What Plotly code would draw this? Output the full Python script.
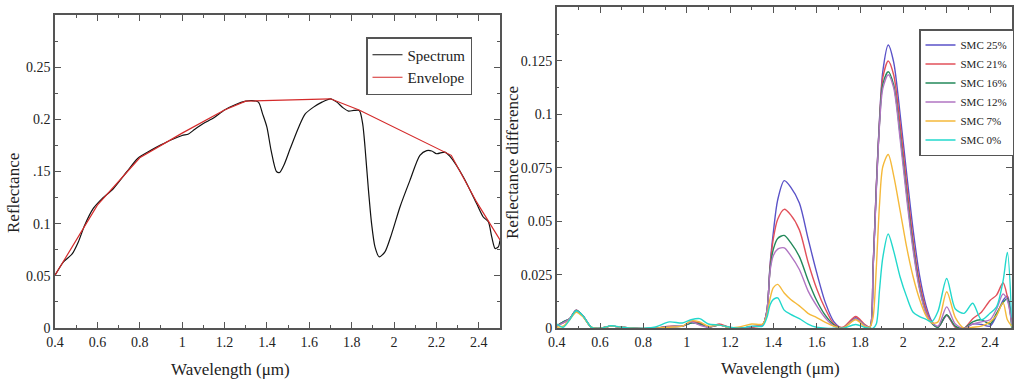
import plotly.graph_objects as go

# ---------------- Left panel data ----------------
spec_wl = [0.40, 0.44, 0.48, 0.51, 0.54, 0.58, 0.62, 0.675, 0.74, 0.79, 0.85, 0.90, 0.95, 1.00,
           1.03, 1.06, 1.10, 1.15, 1.20, 1.25, 1.30, 1.33, 1.36, 1.38, 1.40, 1.42, 1.445, 1.46,
           1.48, 1.51, 1.55, 1.58, 1.62, 1.66, 1.70, 1.73, 1.76, 1.785, 1.81, 1.836, 1.852,
           1.863, 1.878, 1.894, 1.91, 1.93, 1.957, 1.989, 2.028, 2.075, 2.122, 2.154, 2.178,
           2.201, 2.24, 2.264, 2.327, 2.39, 2.421, 2.445, 2.461, 2.477, 2.492, 2.50]
spectrum = [0.0505, 0.0634, 0.0707, 0.0825, 0.0985, 0.1144, 0.1235, 0.1335, 0.150, 0.1625, 0.170,
            0.1755, 0.1805, 0.1845, 0.186, 0.1905, 0.196, 0.2015, 0.209, 0.214, 0.2174, 0.218,
            0.2165, 0.205, 0.1925, 0.170, 0.150, 0.149, 0.156, 0.172, 0.1925, 0.205, 0.2117,
            0.2165, 0.2197, 0.2165, 0.211, 0.2079, 0.2085, 0.2084, 0.1957, 0.1733, 0.1351,
            0.100, 0.0777, 0.0682, 0.073, 0.0905, 0.116, 0.1415, 0.1654, 0.170, 0.1697, 0.167,
            0.1686, 0.1644, 0.1447, 0.119, 0.1064, 0.1018, 0.0873, 0.0762, 0.0777, 0.0841]

env_wl = [0.40, 0.60, 0.80, 1.00, 1.20, 1.30, 1.70, 1.835, 2.27, 2.39, 2.50]
envelope = [0.0505, 0.1178, 0.1632, 0.1868, 0.209, 0.2175, 0.2197, 0.209, 0.1655, 0.1206, 0.0845]

left_ytick_vals = [0, 0.05, 0.1, 0.15, 0.2, 0.25]
left_ytick_text = ["0", "0.05", "0.1", ".15", "0.2", "0.25"]

# ---------------- Right panel data ----------------
wl = [0.40, 0.43, 0.46, 0.49, 0.52, 0.56, 0.60, 0.65, 0.70, 0.75, 0.85, 0.92, 0.98, 1.02, 1.06,
      1.10, 1.15, 1.20, 1.25, 1.30, 1.35, 1.37, 1.385, 1.40, 1.42, 1.45, 1.48, 1.52, 1.56, 1.60,
      1.64, 1.68, 1.72, 1.78, 1.82, 1.845, 1.86, 1.875, 1.89, 1.905, 1.93, 1.955, 1.985, 2.015,
      2.045, 2.075, 2.105, 2.13, 2.16, 2.20, 2.24, 2.28, 2.32, 2.36, 2.40, 2.43, 2.46, 2.48, 2.50]

smc25 = [0.001, 0.003, 0.0045, 0.0085, 0.006, 0.0005, 0.0, 0.001, 0.0005, 0.0, 0.0, 0.0008, 0.001,
         0.0025, 0.002, 0.0005, 0.0015, 0.0003, 0.0, 0.0008, 0.0015, 0.008, 0.030, 0.045, 0.060,
         0.069, 0.066, 0.0585, 0.042, 0.026, 0.012, 0.003, 0.0, 0.005, 0.0015, 0.0005, 0.028,
         0.066, 0.098, 0.120, 0.1324, 0.1245, 0.100, 0.0724, 0.046, 0.0245, 0.0105, 0.0035,
         0.0005, 0.006, 0.0005, 0.0, 0.002, 0.0018, 0.001, 0.006, 0.013, 0.015, 0.004]
smc21 = [0.0015, 0.0025, 0.0045, 0.0085, 0.006, 0.0005, 0.0, 0.001, 0.0005, 0.0, 0.0, 0.001, 0.001,
         0.003, 0.0025, 0.0005, 0.002, 0.0003, 0.0, 0.0005, 0.0015, 0.008, 0.029, 0.042, 0.051,
         0.0556, 0.053, 0.046, 0.031, 0.0185, 0.009, 0.002, 0.0005, 0.0055, 0.002, 0.0005, 0.028,
         0.066, 0.097, 0.117, 0.1249, 0.1185, 0.0955, 0.0677, 0.0413, 0.0212, 0.0088, 0.003,
         0.0005, 0.0062, 0.0005, 0.0, 0.0045, 0.0075, 0.013, 0.0155, 0.0213, 0.0148, 0.003]
smc16 = [0.001, 0.003, 0.0045, 0.0083, 0.006, 0.0005, 0.0, 0.001, 0.0005, 0.0, 0.0, 0.0008, 0.001,
         0.0025, 0.002, 0.0005, 0.0015, 0.0003, 0.0, 0.0008, 0.0015, 0.008, 0.028, 0.037, 0.042,
         0.0434, 0.040, 0.0335, 0.0225, 0.013, 0.006, 0.0015, 0.0, 0.0045, 0.0015, 0.0005, 0.027,
         0.065, 0.096, 0.114, 0.1199, 0.1138, 0.0905, 0.063, 0.038, 0.0188, 0.0072, 0.0025,
         0.0005, 0.0063, 0.001, 0.0, 0.003, 0.004, 0.002, 0.007, 0.012, 0.014, 0.0]
smc12 = [0.001, 0.0025, 0.0045, 0.008, 0.006, 0.0005, 0.0, 0.001, 0.0005, 0.0, 0.0, 0.0008, 0.001,
         0.003, 0.0015, 0.0005, 0.0015, 0.0003, 0.0, 0.0008, 0.0015, 0.008, 0.027, 0.034, 0.037,
         0.0376, 0.034, 0.0275, 0.0175, 0.0105, 0.0048, 0.001, 0.0, 0.0045, 0.0015, 0.0005, 0.027,
         0.064, 0.095, 0.112, 0.1185, 0.1125, 0.0885, 0.061, 0.0365, 0.018, 0.007, 0.0028,
         0.001, 0.010, 0.002, 0.0, 0.002, 0.003, 0.004, 0.009, 0.016, 0.013, 0.002]
smc7 = [0.0005, 0.001, 0.004, 0.0075, 0.0055, 0.0005, 0.0, 0.001, 0.0005, 0.0, 0.0, 0.0005, 0.001,
        0.0035, 0.003, 0.001, 0.0015, 0.0003, 0.0008, 0.002, 0.002, 0.006, 0.014, 0.019, 0.0205,
        0.0165, 0.0135, 0.0105, 0.007, 0.005, 0.0028, 0.001, 0.0, 0.004, 0.001, 0.0005, 0.005,
        0.028, 0.058, 0.0755, 0.0812, 0.0715, 0.055, 0.038, 0.0241, 0.0135, 0.0058, 0.0025,
        0.003, 0.0171, 0.005, 0.0, 0.0005, 0.001, 0.003, 0.006, 0.012, 0.004, 0.001]
smc0 = [0.002, 0.0005, 0.004, 0.0082, 0.006, 0.0005, 0.0, 0.0012, 0.0005, 0.0, 0.0005, 0.003, 0.0025,
        0.004, 0.0045, 0.002, 0.0015, 0.0005, 0.0, 0.001, 0.001, 0.005, 0.011, 0.0135, 0.0142,
        0.0085, 0.0065, 0.0045, 0.002, 0.0005, 0.0, 0.0, 0.0, 0.0018, 0.0005, 0.0, 0.0,
        0.002, 0.018, 0.033, 0.0441, 0.0362, 0.024, 0.0148, 0.0075, 0.0055, 0.0042, 0.003,
        0.008, 0.0233, 0.009, 0.007, 0.0117, 0.004, 0.007, 0.010, 0.022, 0.0355, 0.005]

series_names = ["SMC 25%", "SMC 21%", "SMC 16%", "SMC 12%", "SMC 7%", "SMC 0%"]
series_values = [smc25, smc21, smc16, smc12, smc7, smc0]
series_colors = ["#5a52c8", "#e2505a", "#23895a", "#b075c2", "#f5b93a", "#22d8cc"]

right_ytick_vals = [0, 0.025, 0.05, 0.075, 0.1, 0.125]
right_ytick_text = ["0", "0.025", "0.05", "0.075", "0.1", "0.125"]

# ---------------- Figure ----------------
SERIF = "Liberation Serif, Times New Roman, serif"
FRAME = "#555555"
TXT = "#222222"

fig = go.Figure()

fig.add_trace(go.Scatter(x=spec_wl, y=spectrum, mode="lines", name="Spectrum",
                         line=dict(color="#111111", width=1.2, shape="spline", smoothing=0.7),
                         xaxis="x", yaxis="y", legend="legend"))
fig.add_trace(go.Scatter(x=env_wl, y=envelope, mode="lines", name="Envelope",
                         line=dict(color="#d42a2a", width=1.2),
                         xaxis="x", yaxis="y", legend="legend"))

for name, vals, col in zip(series_names, series_values, series_colors):
    fig.add_trace(go.Scatter(x=wl, y=vals, mode="lines", name=name,
                             line=dict(color=col, width=1.4, shape="spline", smoothing=0.8),
                             xaxis="x2", yaxis="y2", legend="legend2"))

axis_common = dict(showline=True, linecolor=FRAME, linewidth=1.5, mirror="ticks",
                   ticks="inside", ticklen=6, tickwidth=1.3, tickcolor=FRAME,
                   showgrid=False, zeroline=False, automargin=False,
                   tickfont=dict(family=SERIF, size=14, color=TXT))

fig.update_layout(
    width=1024, height=385,
    margin=dict(l=0, r=0, t=0, b=0, pad=0),
    paper_bgcolor="white", plot_bgcolor="white",
    xaxis=dict(domain=[55 / 1024, 500 / 1024], range=[0.4, 2.5], anchor="y",
               tick0=0.4, dtick=0.2,
               minor=dict(ticks="inside", ticklen=3, tick0=0.4, dtick=0.1, tickcolor=FRAME),
               **axis_common),
    yaxis=dict(domain=[1 - 328 / 385, 1 - 15 / 385], range=[0, 0.3], anchor="x",
               tickmode="array", tickvals=left_ytick_vals, ticktext=left_ytick_text,
               minor=dict(ticks="inside", ticklen=3, tick0=0, dtick=0.025, tickcolor=FRAME),
               **axis_common),
    xaxis2=dict(domain=[556.7 / 1024, 1011.7 / 1024], range=[0.4, 2.5], anchor="y2",
                tick0=0.4, dtick=0.2,
                minor=dict(ticks="inside", ticklen=3, tick0=0.4, dtick=0.1, tickcolor=FRAME),
                **axis_common),
    yaxis2=dict(domain=[1 - 328.3 / 385, 1 - 7.3 / 385], range=[0, 0.15], anchor="x2",
                tickmode="array", tickvals=right_ytick_vals, ticktext=right_ytick_text,
                minor=dict(ticks="inside", ticklen=3, tick0=0, dtick=0.0125, tickcolor=FRAME),
                **axis_common),
    legend=dict(x=366 / 1024, y=1 - 37 / 385, xanchor="left", yanchor="top",
                bgcolor="white", bordercolor=FRAME, borderwidth=1.5,
                font=dict(family=SERIF, size=15, color=TXT), itemwidth=30,
                tracegroupgap=0),
    legend2=dict(x=919 / 1024, y=1 - 29 / 385, xanchor="left", yanchor="top",
                 bgcolor="white", bordercolor=FRAME, borderwidth=1.5,
                 font=dict(family=SERIF, size=11, color=TXT), itemwidth=30,
                 tracegroupgap=0),
    showlegend=True,
)

title_font = dict(family=SERIF, size=17, color=TXT)
fig.add_annotation(text="Wavelength (\u03bcm)", x=230 / 1024, y=1 - 369 / 385,
                   xref="paper", yref="paper", showarrow=False, font=title_font,
                   xanchor="center", yanchor="middle")
fig.add_annotation(text="Reflectance", x=14 / 1024, y=1 - 193 / 385,
                   xref="paper", yref="paper", showarrow=False, font=title_font,
                   textangle=-90, xanchor="center", yanchor="middle")
fig.add_annotation(text="Wavelength (\u03bcm)", x=780 / 1024, y=1 - 368 / 385,
                   xref="paper", yref="paper", showarrow=False, font=title_font,
                   xanchor="center", yanchor="middle")
fig.add_annotation(text="Reflectance difference", x=512 / 1024, y=1 - 163 / 385,
                   xref="paper", yref="paper", showarrow=False, font=title_font,
                   textangle=-90, xanchor="center", yanchor="middle")

fig.write_html("out.html", config={"displayModeBar": False},
               post_script="document.body.style.margin='0px';")
